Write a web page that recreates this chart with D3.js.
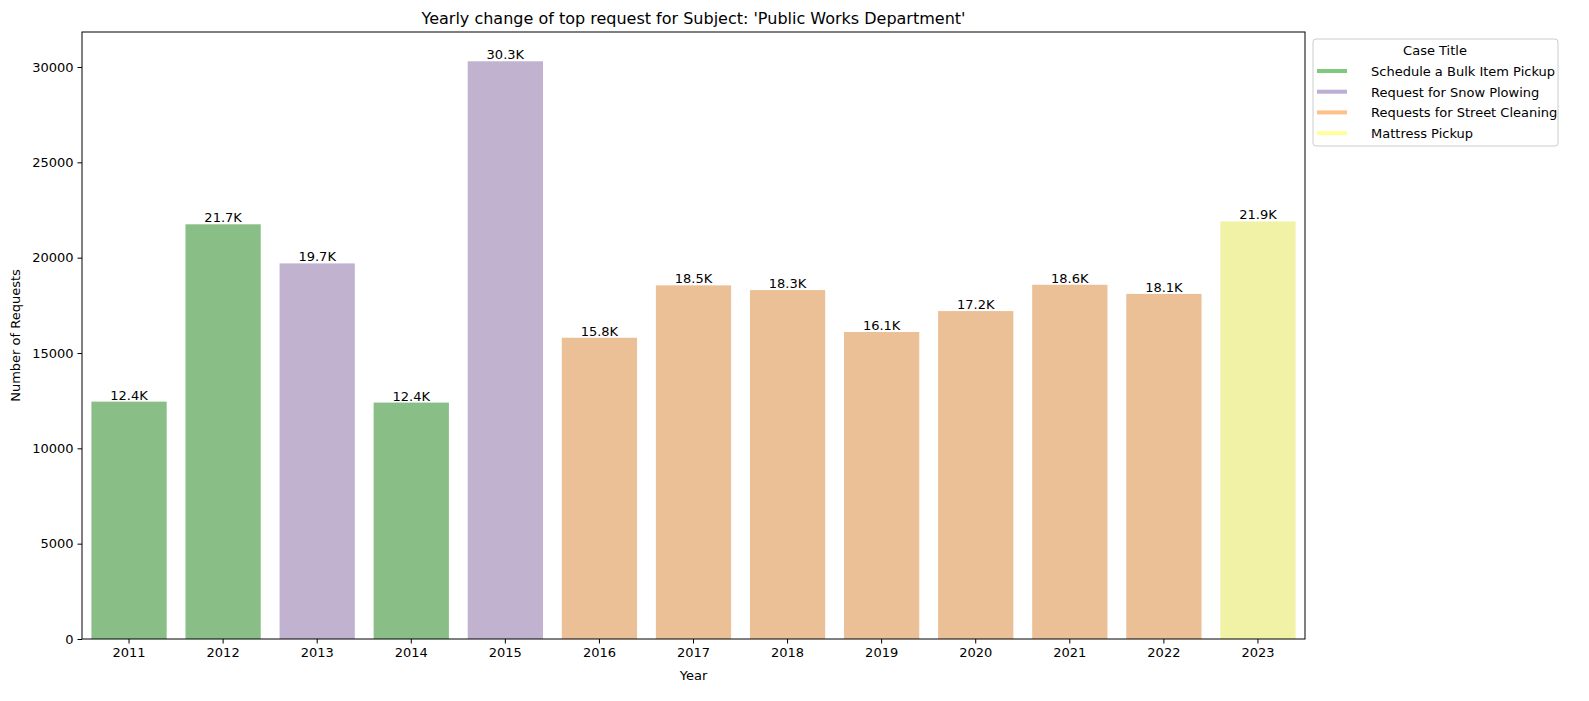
<!DOCTYPE html>
<meta charset="utf-8">
<body style="margin:0;background:#fff">
<script src="https://cdn.jsdelivr.net/npm/d3@7"></script>
<div id="chart"></div>
<script>
var years = ["2011","2012","2013","2014","2015","2016","2017","2018","2019","2020","2021","2022","2023"];
var counts = [12450,21750,19700,12400,30300,15800,18550,18300,16100,17200,18580,18100,21900];
var labels = ["12.4K","21.7K","19.7K","12.4K","30.3K","15.8K","18.5K","18.3K","16.1K","17.2K","18.6K","18.1K","21.9K"];
var caseTitle = [0,0,1,0,1,2,2,2,2,2,2,2,3];
var seriesNames = ["Schedule a Bulk Item Pickup","Request for Snow Plowing","Requests for Street Cleaning","Mattress Pickup"];
var legendColors = ["#7fc97f","#beaed4","#fdc086","#ffff99"];
var barColors = ["#8abe87","#c1b2cf","#ecc097","#f2f2a6"];
var yTicks = [0,5000,10000,15000,20000,25000,30000];

var W = 1589, H = 701, m = {l:82, r:284, t:32, b:62};
var svg = d3.select("#chart").append("svg").attr("width",W).attr("height",H)
  .style("font-family","DejaVu Sans, sans-serif");

var x = d3.scaleBand().domain(years).range([m.l, W-m.r]).paddingInner(0.2).paddingOuter(0.1);
var y = d3.scaleLinear().domain([0,31836]).range([H-m.b, m.t]);

svg.selectAll("rect.bar").data(years).enter().append("rect")
  .attr("x", d => x(d)).attr("width", x.bandwidth())
  .attr("y", (d,i) => y(counts[i])).attr("height", (d,i) => y(0)-y(counts[i]))
  .attr("fill", (d,i) => barColors[caseTitle[i]]);

svg.selectAll("text.lab").data(years).enter().append("text")
  .attr("x", d => x(d)+x.bandwidth()/2).attr("y", (d,i) => y(counts[i])-2)
  .attr("text-anchor","middle").attr("font-size",13).text((d,i) => labels[i]);

var gx = svg.append("g").attr("transform","translate(0,"+(H-m.b)+")")
  .call(d3.axisBottom(x).tickSizeOuter(0).tickSize(4.5).tickPadding(4));
var gy = svg.append("g").attr("transform","translate("+m.l+",0)")
  .call(d3.axisLeft(y).tickValues(yTicks).tickFormat(d3.format("d")).tickSizeOuter(0).tickSize(4.5).tickPadding(4));
[gx,gy].forEach(g => { g.selectAll("text").attr("font-size",13).attr("font-family","DejaVu Sans, sans-serif").attr("fill","#000");
  g.select(".domain").remove(); g.selectAll("line").attr("stroke","#000"); });

svg.append("rect").attr("x",m.l).attr("y",m.t).attr("width",W-m.r-m.l).attr("height",H-m.b-m.t)
  .attr("fill","none").attr("stroke","#000").attr("stroke-width",1);

svg.append("text").attr("x",(m.l+W-m.r)/2).attr("y",24).attr("text-anchor","middle")
  .attr("font-size",16).text("Yearly change of top request for Subject: 'Public Works Department'");
svg.append("text").attr("x",(m.l+W-m.r)/2).attr("y",680).attr("text-anchor","middle")
  .attr("font-size",13).text("Year");
svg.append("text").attr("transform","translate(20,"+((m.t+H-m.b)/2)+") rotate(-90)")
  .attr("text-anchor","middle").attr("font-size",13).text("Number of Requests");

var lg = svg.append("g");
lg.append("rect").attr("x",1313).attr("y",39).attr("width",245).attr("height",107).attr("rx",3)
  .attr("fill","#fff").attr("stroke","#ccc");
lg.append("text").attr("x",1435).attr("y",55).attr("text-anchor","middle").attr("font-size",13).text("Case Title");
seriesNames.forEach((s,i) => {
  var yy = 71 + i*20.7;
  lg.append("line").attr("x1",1317).attr("x2",1347).attr("y1",yy).attr("y2",yy)
    .attr("stroke",legendColors[i]).attr("stroke-width",4);
  lg.append("text").attr("x",1371).attr("y",yy+5).attr("font-size",13).text(s);
});
</script>
</body>
